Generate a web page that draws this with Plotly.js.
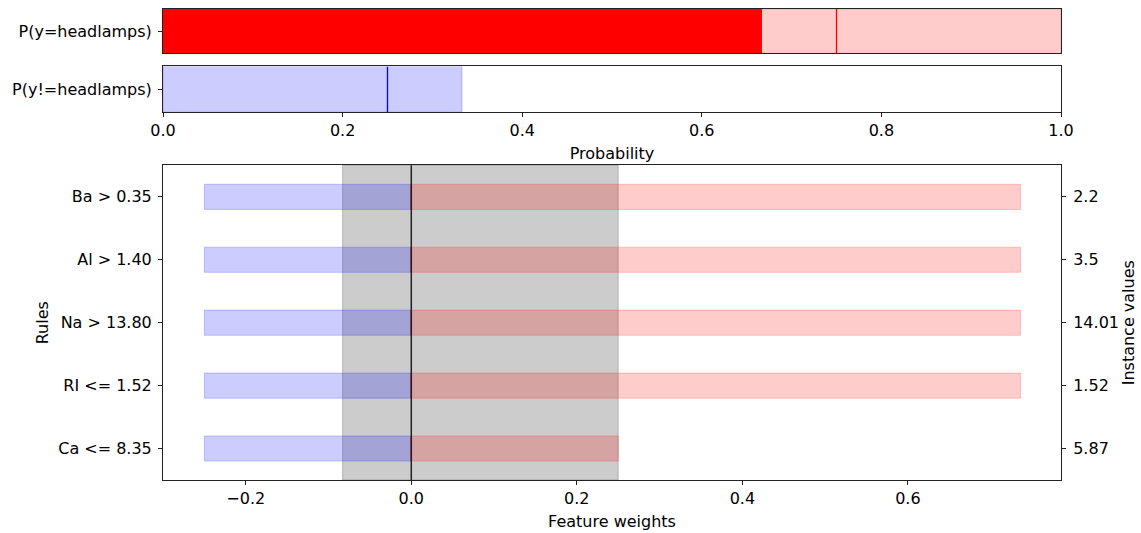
<!DOCTYPE html>
<html>
<head>
<meta charset="utf-8">
<script src="https://cdn.plot.ly/plotly-3.0.1.min.js"></script>
<style>html,body{margin:0;padding:0;background:#fff}#chart{width:1141px;height:533px}</style>
</head>
<body>
<div id="chart"></div>
<script>
// ---- data ----
const probLabels = ["P(y=headlamps)", "P(y!=headlamps)"];
const probPredict = 0.75;
const probLow = 0.667;
const probHigh = 1.0;

const rules = ["Ba > 0.35", "Al > 1.40", "Na > 13.80", "RI <= 1.52", "Ca <= 8.35"];
const instanceValues = ["2.2", "3.5", "14.01", "1.52", "5.87"];
const weights = [0, 0, 0, 0, 0];
const weightLow = [-0.25, -0.25, -0.25, -0.25, -0.25];
const weightHigh = [0.736, 0.736, 0.736, 0.736, 0.25];
const baseInterval = [-0.083, 0.25];

// ---- derived ----
const ruleY = rules.map((_, i) => rules.length - 1 - i);
const font = {family: "DejaVu Sans, sans-serif", size: 16, color: "#000"};
const RED_L = "rgba(255,0,0,0.2)", BLUE_L = "rgba(0,0,255,0.2)";

const traces = [];
// Top panel: positive class (y3 / x3)
traces.push({type: "bar", orientation: "h", x: [probHigh], y: [0], width: 1, xaxis: "x3", yaxis: "y3",
  marker: {color: RED_L, line: {color: RED_L, width: 1}}, hoverinfo: "skip"});
traces.push({type: "bar", orientation: "h", x: [probLow], y: [0], width: 1, xaxis: "x3", yaxis: "y3",
  marker: {color: "#ff0000", line: {color: "#ff0000", width: 0}}, hoverinfo: "skip"});
traces.push({type: "scatter", mode: "lines", x: [probPredict, probPredict], y: [-0.5, 0.5], xaxis: "x3", yaxis: "y3",
  line: {color: "#ff0000", width: 1.3}, hoverinfo: "skip"});
// Second panel: negative class (y2 / x2)
traces.push({type: "bar", orientation: "h", x: [1 - probLow], y: [0], width: 1, xaxis: "x2", yaxis: "y2",
  marker: {color: BLUE_L, line: {color: BLUE_L, width: 1}}, hoverinfo: "skip"});
traces.push({type: "bar", orientation: "h", x: [1 - probHigh], y: [0], width: 1, xaxis: "x2", yaxis: "y2",
  marker: {color: "#0000ff", line: {width: 0}}, hoverinfo: "skip"});
traces.push({type: "scatter", mode: "lines", x: [1 - probPredict, 1 - probPredict], y: [-0.5, 0.5], xaxis: "x2", yaxis: "y2",
  line: {color: "#0000ff", width: 1.3}, hoverinfo: "skip"});
// Bottom panel: rules
traces.push({type: "bar", orientation: "h", x: weightLow, y: ruleY, width: 0.4, xaxis: "x", yaxis: "y",
  marker: {color: BLUE_L, line: {color: BLUE_L, width: 1}}, hoverinfo: "skip"});
traces.push({type: "bar", orientation: "h", x: weightHigh, y: ruleY, width: 0.4, xaxis: "x", yaxis: "y",
  marker: {color: RED_L, line: {color: RED_L, width: 1}}, hoverinfo: "skip"});
const wx = [], wy = [];
weights.forEach((w, i) => { wx.push(w, w, null); wy.push(ruleY[i] - 0.2, ruleY[i] + 0.2, null); });
traces.push({type: "scatter", mode: "lines", x: wx, y: wy, xaxis: "x", yaxis: "y",
  line: {color: "#ff0000", width: 1.5}, hoverinfo: "skip"});
// invisible trace for right axis
traces.push({type: "scatter", mode: "markers", x: [0], y: [0], xaxis: "x", yaxis: "y4",
  marker: {opacity: 0}, hoverinfo: "skip"});

const axLine = {showline: true, linecolor: "#222", linewidth: 1, mirror: true, zeroline: false, showgrid: false,
  ticks: "outside", ticklen: 4, tickcolor: "#222", tickfont: font};

const layout = {
  width: 1141, height: 533,
  margin: {l: 163, r: 80, t: 9, b: 53},
  paper_bgcolor: "#fff", plot_bgcolor: "#fff",
  showlegend: false, barmode: "overlay",
  font: font,
  xaxis: Object.assign({}, axLine, {domain: [0, 1], anchor: "y", range: [-0.3, 0.785],
    tickvals: [-0.2, 0, 0.2, 0.4, 0.6], tickformat: ".1f",
    title: {text: "Feature weights", font: font, standoff: 8}}),
  yaxis: Object.assign({}, axLine, {domain: [0, 0.668], anchor: "x", range: [-0.5, 4.5],
    tickvals: ruleY, ticktext: rules, ticklabelstandoff: 3,
    title: {text: "Rules", font: font, standoff: 5}}),
  yaxis4: Object.assign({}, axLine, {overlaying: "y", side: "right", anchor: "x", range: [-0.5, 4.5],
    showline: false, tickvals: ruleY, ticktext: instanceValues, ticklabelstandoff: 4,
    title: {text: "Instance values", font: font, standoff: 4}}),
  xaxis2: Object.assign({}, axLine, {domain: [0, 1], anchor: "y2", range: [0, 1],
    tickvals: [0, 0.2, 0.4, 0.6, 0.8, 1.0], tickformat: ".1f",
    title: {text: "Probability", font: font, standoff: 8}}),
  yaxis2: Object.assign({}, axLine, {domain: [0.781, 0.878], anchor: "x2", range: [-0.5, 0.5],
    tickvals: [0], ticktext: [probLabels[1]], ticklabelstandoff: 3}),
  xaxis3: Object.assign({}, axLine, {domain: [0, 1], anchor: "y3", range: [0, 1],
    ticks: "", showticklabels: false}),
  yaxis3: Object.assign({}, axLine, {domain: [0.906, 1.0], anchor: "x3", range: [-0.5, 0.5],
    tickvals: [0], ticktext: [probLabels[0]], ticklabelstandoff: 3}),
  shapes: [
    {type: "rect", xref: "x", yref: "y domain", x0: baseInterval[0], x1: baseInterval[1], y0: 0, y1: 1,
      fillcolor: "rgba(0,0,0,0.2)", line: {color: "rgba(0,0,0,0.2)", width: 1}, layer: "below"},
    {type: "line", xref: "x", yref: "y domain", x0: 0, x1: 0, y0: 0, y1: 1,
      line: {color: "#222", width: 1.5}, layer: "above"}
  ]
};

Plotly.newPlot("chart", traces, layout, {displayModeBar: false, staticPlot: true});
</script>
</body>
</html>
